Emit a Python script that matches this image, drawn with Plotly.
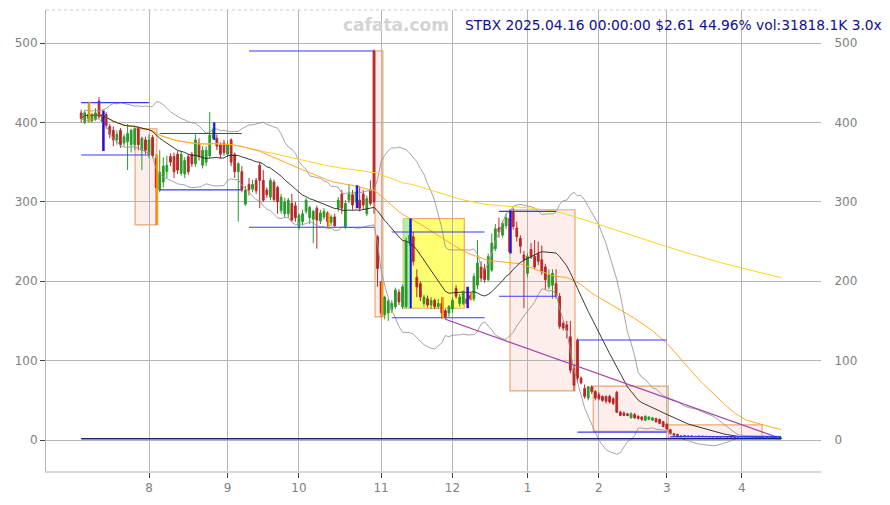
import pandas as pd
import numpy as np
import plotly.graph_objects as go

# ---------------- data ----------------
holidays = ["2024-09-02", "2024-11-28", "2024-12-25", "2025-01-01",
            "2025-01-09", "2025-01-20", "2025-02-17"]
dates = [d for d in pd.bdate_range("2024-07-05", "2025-04-16")
         if d.strftime("%Y-%m-%d") not in holidays]

opens = [412, 400, 405, 402, 404, 427, 410, 410, 395, 390, 378, 390, 374, 376, 372, 372, 392, 365, 378, 360,
         381, 355, 315, 325, 338, 357, 357, 360, 336, 335, 357, 360, 348, 374, 346, 350, 358, 380, 380, 372,
         374, 360, 378, 360, 338, 338, 297, 322, 316, 327, 346, 327, 315, 306, 325, 318, 289, 285, 285, 298,
         295, 269, 275, 288, 280, 278, 292, 276, 281, 286, 274, 281, 292, 310, 268, 302, 309, 300, 302, 310,
         285, 315, 490, 256, 199, 158, 160, 164, 168, 186, 168, 168, 250, 256, 205, 197, 172, 178, 170, 176,
         168, 172, 163, 160, 165, 191, 172, 172, 178, 182, 178, 195, 218, 216, 202, 214, 241, 267, 258, 270,
         279, 288, 267, 254, 233, 210, 240, 231, 235, 227, 218, 193, 195, 197, 181, 147, 145, 130, 90, 126,
         78, 65, 53, 67, 61, 57, 55, 55, 55, 52, 60, 35, 34, 33, 28, 32, 30, 29, 25, 26,
         25, 27, 26, 23, 20, 13, 8, 7, 4, 5.5, 4.8, 5.2, 4.7, 4.4, 5.0, 4.5, 4.6, 4.2, 4.1, 4.0,
         3.9, 4.2, 3.9, 3.6, 3.4, 3.2, 3.7, 3.3, 3.6, 3.1, 2.7, 2.5, 2.3, 2.1, 1.9, 2.0, 1.8]
highs = [416, 415, 426, 412, 418, 432, 415, 413, 398, 395, 390, 393, 385, 398, 392, 395, 395, 382, 382, 385,
         384, 360, 365, 356, 358, 361, 362, 364, 364, 356, 360, 363, 385, 380, 370, 370, 413, 400, 385, 375,
         378, 377, 380, 362, 350, 345, 320, 330, 328, 330, 350, 340, 318, 330, 328, 320, 310, 305, 305, 310,
         300, 285, 290, 305, 295, 290, 295, 290, 292, 288, 284, 285, 306, 315, 302, 322, 315, 321, 320, 315,
         308, 327, 492, 258, 200, 182, 178, 176, 192, 190, 196, 255, 279, 262, 215, 200, 183, 182, 180, 178,
         178, 180, 165, 170, 180, 195, 184, 188, 193, 186, 210, 252, 225, 222, 235, 260, 272, 280, 276, 285,
         290, 292, 275, 258, 238, 235, 248, 252, 250, 245, 222, 215, 215, 215, 185, 150, 150, 150, 95, 128,
         80, 70, 68, 69, 63, 60, 56, 56, 57, 54, 62, 37, 36, 34, 35, 34, 31, 30, 31, 30,
         29, 28, 27, 24, 21, 14, 9, 8, 6, 6, 5.5, 5.6, 5.0, 5.2, 5.3, 4.8, 5.0, 4.6, 4.4, 4.3,
         4.4, 4.4, 4.1, 3.9, 3.6, 3.9, 3.8, 3.8, 3.7, 3.3, 3.0, 2.8, 2.6, 2.3, 2.2, 2.1, 3.0]
lows = [400, 398, 400, 400, 402, 405, 364, 392, 380, 370, 372, 368, 370, 340, 362, 365, 365, 340, 360, 355,
        355, 271, 312, 318, 330, 345, 330, 335, 333, 330, 334, 344, 344, 352, 342, 345, 355, 378, 365, 355,
        358, 356, 345, 330, 275, 312, 295, 308, 312, 310, 292, 300, 305, 302, 300, 285, 285, 280, 280, 275,
        275, 265, 270, 285, 272, 248, 241, 272, 278, 268, 270, 268, 288, 285, 266, 298, 290, 292, 288, 290,
        282, 295, 285, 193, 155, 152, 150, 160, 165, 170, 165, 166, 245, 220, 180, 175, 168, 167, 165, 165,
        165, 153, 152, 155, 160, 178, 168, 170, 166, 176, 175, 190, 200, 198, 200, 212, 238, 255, 255, 266,
        235, 265, 250, 235, 166, 205, 228, 215, 220, 208, 189, 190, 178, 178, 140, 138, 128, 84, 62, 72,
        70, 52, 50, 58, 50, 50, 48, 46, 46, 44, 34, 30, 30, 30, 27, 27, 26, 24, 24, 25,
        24, 22, 20, 16, 13, 7, 5, 4, 3.5, 4.5, 4.3, 4.6, 4.2, 4.2, 4.3, 4.0, 4.1, 3.9, 3.8, 3.7,
        3.7, 3.8, 3.5, 3.3, 3.1, 3.1, 3.2, 3.1, 3.0, 2.6, 2.4, 2.2, 2.0, 1.8, 1.7, 1.7, 1.8]
closes = [405, 412, 410, 410, 412, 407, 400, 396, 385, 378, 385, 372, 382, 386, 390, 392, 372, 380, 365, 378,
          358, 318, 337, 345, 346, 350, 338, 340, 360, 352, 338, 348, 378, 357, 365, 365, 384, 392, 370, 360,
          362, 372, 350, 338, 348, 315, 315, 315, 322, 314, 327, 302, 309, 327, 303, 300, 306, 300, 302, 277,
          280, 283, 285, 302, 293, 288, 277, 286, 288, 275, 281, 270, 302, 292, 298, 310, 296, 312, 292, 296,
          304, 298, 300, 216, 160, 180, 175, 172, 189, 174, 193, 250, 258, 225, 193, 180, 180, 170, 176, 168,
          172, 160, 155, 168, 176, 181, 180, 185, 172, 178, 206, 223, 204, 202, 231, 248, 266, 262, 273, 280,
          237, 269, 256, 244, 227, 231, 231, 218, 225, 212, 202, 208, 210, 181, 143, 141, 138, 88, 69, 78,
          72, 55, 67, 61, 53, 52, 50, 49, 48, 46, 35, 31, 31, 31, 33, 28, 27, 26, 30, 29,
          28, 23, 21, 17, 14, 8, 6, 5, 5.5, 4.8, 5.2, 4.7, 4.4, 5.0, 4.5, 4.6, 4.2, 4.1, 4.0, 3.9,
          4.2, 3.9, 3.6, 3.4, 3.2, 3.7, 3.3, 3.6, 3.1, 2.7, 2.5, 2.3, 2.1, 1.9, 2.0, 1.8, 2.61]

# highlighted candles (bar index, low, high)
blue_idx = [6, 37, 77, 92, 108, 120]
blue_lo = [364, 378, 292, 166, 166, 235]
blue_hi = [415, 400, 321, 279, 193, 289]
orange_idx = [2, 21, 69, 84, 101, 109]
orange_lo = [400, 271, 268, 155, 153, 176]
orange_hi = [426, 359, 286, 199, 180, 186]

# range boxes (start bar, end bar, low, high)
box_x0 = [15.1, 82.3, 90.2, 120.1, 143.4, 164.4]
box_x1 = [21.2, 84.5, 107.3, 138.3, 164.4, 190.7]
box_lo = [271, 155, 166, 62, 11, 3]
box_hi = [392, 490, 279, 290, 68, 19]
box_kind = ["pink", "pink", "yellow", "pink", "pink", "pink"]
green_x0, green_x1 = 90.2, 92.2

# support / resistance levels (start bar, end bar, value)
lvl_x0 = [0, 0, 22, 22, 47, 47, 87, 87, 117, 117, 139, 139, 165]
lvl_x1 = [19, 19, 45, 45, 82, 82, 113, 113, 133, 133, 164, 164, 196]
lvl_val = [425, 359, 386, 315, 490, 268, 262, 154, 288, 181, 126, 10, 4.5]
floor_val = 1.5

# trend line (bar, value)
trend_i = [102, 196]
trend_v = [152, 1.8]

month_labels = ["8", "9", "10", "11", "12", "1", "2", "3", "4"]
y_ticks = [0, 100, 200, 300, 400, 500]

# ---------------- derived ----------------
n = len(closes)
idx = list(range(n))
s = pd.Series(closes, dtype=float)
ma20 = s.rolling(20, min_periods=1).mean()
sd20 = s.rolling(20, min_periods=1).std(ddof=0)
ma50 = s.rolling(50, min_periods=1).mean()
ma200 = s.rolling(200, min_periods=1).mean()
up = ma20 + 2 * sd20
dn = ma20 - 2 * sd20

dser = pd.Series(dates[:n])
tick_pos = [i for i in range(1, n) if dser[i].month != dser[i - 1].month]

fig = go.Figure()

# boxes
shapes = []
for x0, x1, lo, hi, kind in zip(box_x0, box_x1, box_lo, box_hi, box_kind):
    fill = "rgba(255,255,0,0.55)" if kind == "yellow" else "rgba(245,170,160,0.2)"
    shapes.append(dict(type="rect", xref="x", yref="y", x0=x0, x1=x1, y0=lo, y1=hi,
                       fillcolor=fill, line=dict(color="rgba(225,140,70,0.75)", width=1.2),
                       layer="below"))
shapes.append(dict(type="rect", xref="x", yref="y", x0=green_x0, x1=green_x1,
                   y0=box_lo[2], y1=box_hi[2], fillcolor="rgba(170,240,170,0.9)",
                   line=dict(width=0), layer="below"))
# frame
shapes.append(dict(type="line", xref="paper", yref="paper", x0=0, x1=1, y0=1, y1=1,
                   line=dict(color="#c8c8c8", width=1, dash="dot")))

# bands and averages
fig.add_trace(go.Scatter(x=idx, y=up, mode="lines", line=dict(color="#999999", width=0.9), hoverinfo="skip"))
fig.add_trace(go.Scatter(x=idx, y=dn, mode="lines", line=dict(color="#999999", width=0.9), hoverinfo="skip"))
fig.add_trace(go.Scatter(x=idx, y=ma200, mode="lines", line=dict(color="#ffd21f", width=1), hoverinfo="skip"))
fig.add_trace(go.Scatter(x=idx, y=ma50, mode="lines", line=dict(color="#ffa826", width=1), hoverinfo="skip"))
fig.add_trace(go.Scatter(x=idx, y=ma20, mode="lines", line=dict(color="#222222", width=0.9), hoverinfo="skip"))

# trend line
fig.add_trace(go.Scatter(x=trend_i, y=trend_v, mode="lines", line=dict(color="#a040a8", width=1.1), hoverinfo="skip"))

# level lines
lx, ly = [], []
for a, b, v in zip(lvl_x0, lvl_x1, lvl_val):
    lx += [a, b, None]
    ly += [v, v, None]
fig.add_trace(go.Scatter(x=lx, y=ly, mode="lines", line=dict(color="#3a3aff", width=1.1), hoverinfo="skip"))
fig.add_trace(go.Scatter(x=[0, n - 1], y=[floor_val, floor_val], mode="lines",
                         line=dict(color="#1a2470", width=1.5), hoverinfo="skip"))

# candles
fig.add_trace(go.Candlestick(
    x=idx, open=opens, high=highs, low=lows, close=closes,
    increasing=dict(line=dict(color="#2a9a2a", width=1), fillcolor="#2a9a2a"),
    decreasing=dict(line=dict(color="#b82828", width=1), fillcolor="#b82828"),
    whiskerwidth=0, hoverinfo="skip"))

# highlighted candles
bx, by = [], []
for i, lo, hi in zip(blue_idx, blue_lo, blue_hi):
    bx += [i + 0.3, i + 0.3, None]
    by += [lo, hi, None]
fig.add_trace(go.Scatter(x=bx, y=by, mode="lines", line=dict(color="#1010ff", width=2), hoverinfo="skip"))
ox, oy = [], []
for i, lo, hi in zip(orange_idx, orange_lo, orange_hi):
    ox += [i + 0.3, i + 0.3, None]
    oy += [lo, hi, None]
fig.add_trace(go.Scatter(x=ox, y=oy, mode="lines", line=dict(color="#ff9a00", width=2), hoverinfo="skip"))

# invisible trace for right axis
fig.add_trace(go.Scatter(x=[0], y=[0], yaxis="y2", mode="markers", marker=dict(opacity=0), hoverinfo="skip"))

yr = [-39, 541.6]
fig.update_layout(
    width=882, height=497,
    margin=dict(l=38, r=69, t=2, b=34),
    paper_bgcolor="white", plot_bgcolor="white",
    showlegend=False,
    font=dict(family="DejaVu Sans", size=12, color="#808080"),
    shapes=shapes,
    xaxis=dict(range=[-9.85, 207.2], tickvals=tick_pos, ticktext=month_labels,
               showgrid=True, gridcolor="#b4b4b4", gridwidth=1, zeroline=False,
               showline=True, linecolor="#d8d8d8", linewidth=1.5,
               ticks="outside", ticklen=5, tickcolor="#444444",
               rangeslider=dict(visible=False), tickfont=dict(size=12, color="#808080")),
    yaxis=dict(range=yr, tickvals=y_ticks, showgrid=True, gridcolor="#b4b4b4", gridwidth=1,
               zeroline=False, showline=True, linecolor="#b4b4b4", linewidth=1,
               ticks="outside", ticklen=5, tickcolor="#444444", tickfont=dict(size=12, color="#808080")),
    yaxis2=dict(range=yr, tickvals=y_ticks, overlaying="y", side="right", showgrid=False,
                zeroline=False, showline=False, ticks="outside", ticklen=10,
                tickcolor="rgba(0,0,0,0)", tickfont=dict(size=12, color="#808080")),
    annotations=[
        dict(text="<b>cafata.com</b>", xref="paper", yref="paper", x=0.4516, y=0.967,
             xanchor="center", yanchor="middle", showarrow=False,
             font=dict(family="DejaVu Sans", size=17, color="#d4d4d4")),
        dict(text="STBX 2025.04.16 00:00:00 $2.61 44.96% vol:31818.1K 3.0x", xref="paper", yref="paper",
             x=0.538, y=0.967, xanchor="left", yanchor="middle", showarrow=False,
             font=dict(family="DejaVu Sans", size=13.8, color="#10108a")),
    ],
)

fig.write_html("out.html")
